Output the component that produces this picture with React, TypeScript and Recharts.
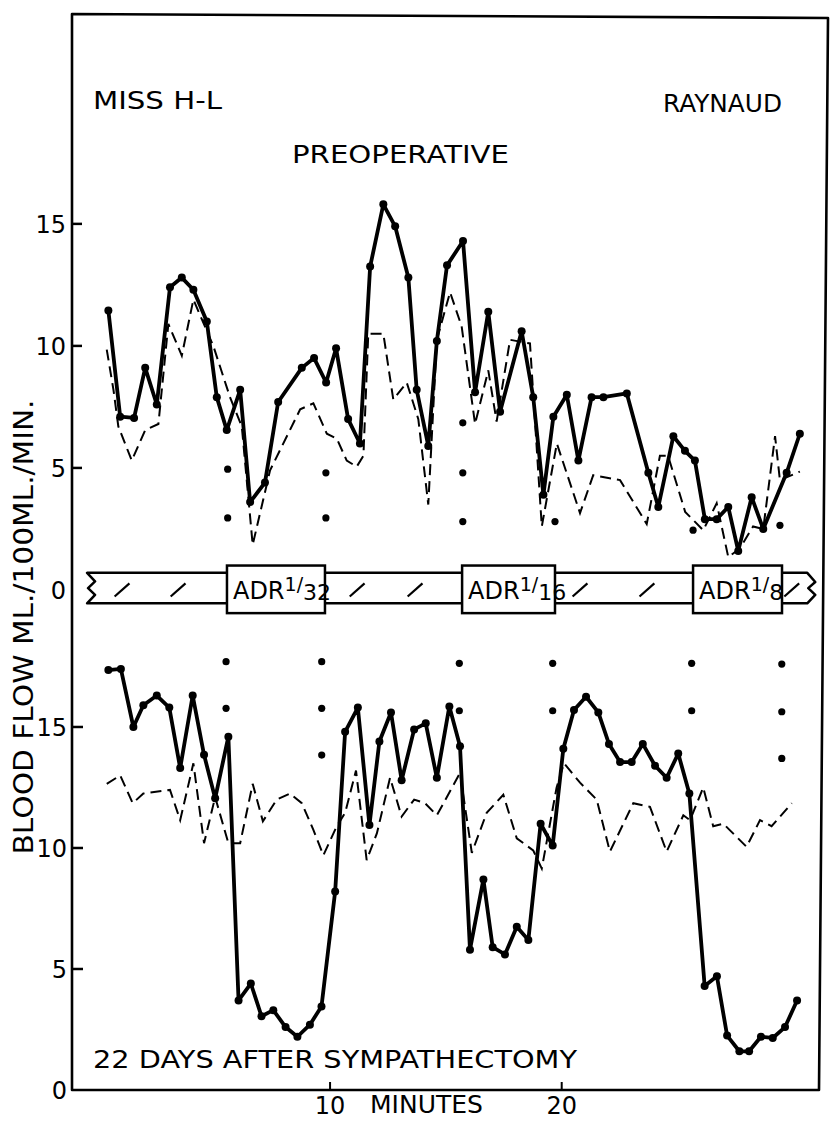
import React from "react";
import {
  ComposedChart,
  Line,
  Scatter,
  XAxis,
  YAxis,
  ReferenceArea,
  ReferenceLine,
} from "recharts";

// preoperative record (time in minutes, flow in ml/100ml/min)
const preFlowMin = [0.43, 0.94, 1.54, 2.02, 2.52, 3.09, 3.6, 4.1, 4.68, 5.11, 5.54, 6.12, 6.55, 7.19, 7.76, 8.78, 9.31, 9.83, 10.26, 10.78, 11.29, 11.73, 12.3, 12.81, 13.38, 13.74, 14.24, 14.61, 15.05, 15.74, 16.26, 16.83, 17.34, 18.27, 18.77, 19.21, 19.64, 20.22, 20.72, 21.29, 21.8, 22.81, 23.74, 24.17, 24.82, 25.32, 25.75, 26.18, 26.69, 27.19, 27.62, 28.2, 28.7, 29.71, 30.28];
const preFlow = [11.45, 7.1, 7.05, 9.1, 7.6, 12.4, 12.8, 12.3, 11.0, 7.9, 6.55, 8.2, 3.6, 4.4, 7.7, 9.1, 9.5, 8.5, 9.9, 7.0, 6.0, 13.25, 15.8, 14.9, 12.8, 8.2, 5.9, 10.2, 13.3, 14.3, 8.1, 11.4, 7.3, 10.6, 7.9, 3.9, 7.1, 8.0, 5.3, 7.9, 7.9, 8.05, 4.8, 3.4, 6.3, 5.7, 5.3, 2.9, 2.9, 3.4, 1.6, 3.8, 2.5, 4.8, 6.4];
const preCtrlMin = [0.36, 0.65, 0.86, 1.44, 2.02, 2.59, 3.02, 3.6, 4.1, 4.96, 5.68, 6.19, 6.66, 7.41, 8.71, 9.28, 9.86, 10.29, 10.72, 11.15, 11.44, 11.65, 12.3, 12.73, 13.31, 13.81, 14.24, 14.61, 15.18, 15.68, 16.26, 16.83, 17.19, 17.77, 18.63, 19.14, 19.79, 20.79, 21.36, 22.52, 23.67, 24.24, 24.59, 25.33, 26.11, 26.69, 27.19, 27.69, 28.26, 28.7, 29.21, 29.42, 30.28];
const preCtrl = [9.85, 8.2, 6.7, 5.3, 6.55, 6.8, 10.9, 9.6, 11.9, 10.0, 7.9, 6.7, 1.85, 4.9, 7.4, 7.65, 6.4, 6.2, 5.3, 5.05, 5.5, 10.5, 10.5, 7.8, 8.5, 7.0, 3.5, 10.25, 12.2, 10.8, 6.8, 9.0, 6.9, 10.25, 10.1, 2.6, 6.0, 3.15, 4.7, 4.5, 2.7, 5.5, 5.5, 3.2, 2.45, 3.55, 1.35, 1.7, 2.6, 2.5, 6.3, 4.5, 4.85];

// 22 days after sympathectomy
const postFlowMin = [0.43, 0.97, 1.51, 1.94, 2.52, 3.06, 3.53, 4.07, 4.56, 5.04, 5.61, 6.05, 6.58, 7.04, 7.55, 8.08, 8.59, 9.13, 9.63, 10.22, 10.65, 11.2, 11.7, 12.13, 12.63, 13.09, 13.63, 14.13, 14.61, 15.15, 15.61, 16.04, 16.62, 17.02, 17.55, 18.06, 18.56, 19.09, 19.61, 20.07, 20.53, 21.05, 21.58, 22.04, 22.52, 23.02, 23.5, 24.03, 24.53, 25.03, 25.51, 26.17, 26.7, 27.14, 27.67, 28.09, 28.6, 29.11, 29.64, 30.16];
const postFlow = [17.35, 17.4, 15.0, 15.9, 16.3, 15.8, 13.3, 16.3, 13.85, 12.05, 14.6, 3.7, 4.4, 3.05, 3.3, 2.6, 2.2, 2.7, 3.45, 8.2, 14.8, 15.8, 10.95, 14.4, 15.6, 12.8, 14.9, 15.15, 12.9, 15.85, 14.2, 5.8, 8.7, 5.9, 5.6, 6.75, 6.2, 11.0, 10.1, 14.1, 15.7, 16.25, 15.6, 14.3, 13.55, 13.55, 14.3, 13.4, 12.9, 13.9, 12.25, 4.3, 4.7, 2.25, 1.6, 1.6, 2.2, 2.15, 2.6, 3.7];
const postCtrlMin = [0.36, 0.94, 1.48, 1.94, 3.09, 3.53, 4.1, 4.56, 5.04, 5.61, 6.12, 6.66, 7.1, 7.7, 8.27, 8.78, 9.28, 9.71, 10.29, 10.65, 11.12, 11.58, 12.02, 12.59, 13.09, 13.63, 14.1, 14.61, 15.61, 16.12, 16.76, 17.48, 18.06, 18.77, 19.14, 19.78, 20.1, 20.79, 21.51, 22.08, 23.09, 23.81, 24.53, 25.25, 25.54, 26.11, 26.54, 26.98, 27.98, 28.56, 29.06, 29.93];
const postCtrl = [12.65, 13.0, 11.85, 12.25, 12.4, 11.15, 13.5, 10.2, 12.1, 10.2, 10.2, 12.65, 11.1, 12.0, 12.25, 11.85, 10.75, 9.7, 10.9, 11.45, 13.2, 9.5, 10.6, 12.9, 11.3, 12.0, 11.85, 11.35, 13.1, 9.8, 11.45, 12.2, 10.4, 9.9, 9.15, 12.5, 13.5, 12.7, 12.0, 9.85, 11.85, 11.7, 9.85, 11.35, 11.15, 12.5, 10.9, 11.0, 10.05, 11.15, 10.9, 11.85];

// dot marks at start / stop of each infusion
const preMarkMin = [5.58, 5.58, 9.82, 9.82, 15.73, 15.73, 15.73, 19.71, 25.67, 29.42];
const preMarkV = [4.95, 2.95, 4.8, 2.95, 6.85, 4.8, 2.8, 2.8, 2.45, 2.65];
const postMarkMin = [5.51, 5.51, 9.64, 9.64, 9.64, 15.58, 15.58, 19.61, 19.61, 25.61, 25.61, 29.5, 29.5, 29.5];
const postMarkV = [17.7, 15.77, 17.7, 15.77, 13.84, 17.63, 15.67, 17.63, 15.67, 17.63, 15.67, 17.6, 15.63, 13.7];

// adrenaline infusion band
const adrStart = [5.55, 15.7, 25.67];
const adrEnd = [9.78, 19.71, 29.51];
const adrDose = ["32", "16", "8"];
const bandFrom = -0.49;
const bandTo = 30.6;
const slashMin = [1.02, 3.44, 11.17, 13.67, 20.79, 23.68, 29.93];

const yTicks = [0, 5, 10, 15];
const xTicks = [10, 20];

const FONT = "'DejaVu Sans', 'Liberation Sans', sans-serif";
const W = 835;
const H = 1122;

const zip = (ts: number[], vs: number[]) => ts.map((t, i) => ({ t, v: vs[i] }));

const YTick = ({ x, y, payload }: any) => (
  <g>
    {payload.value !== 0 && (
      <line x1={x} x2={x + 11} y1={y} y2={y} stroke="#000" strokeWidth={2.5} />
    )}
    <text x={x - 5} y={y} dy={9} textAnchor="end" fontSize={24} fontFamily={FONT} fill="#000">
      {payload.value}
    </text>
  </g>
);

const XTick = ({ x, y, payload }: any) => (
  <g>
    <line x1={x} x2={x} y1={y} y2={y - 8} stroke="#000" strokeWidth={2} />
    <text x={x} y={y + 24} textAnchor="middle" fontSize={24} fontFamily={FONT} fill="#000">
      {payload.value}
    </text>
  </g>
);

const MarkDot = ({ cx, cy }: any) => <circle cx={cx} cy={cy} r={3.6} fill="#000" />;

const Strip = ({ x, y, width, height }: any) => {
  const r = x + width;
  const b = y + height;
  const d = [
    `M${x},${y}`,
    `L${r},${y}`,
    `L${r + 8},${y + height * 0.3}`,
    `L${r + 1},${y + height * 0.5}`,
    `L${r + 8},${y + height * 0.72}`,
    `L${r},${b}`,
    `L${x},${b}`,
    `L${x + 8},${y + height * 0.72}`,
    `L${x + 1},${y + height * 0.5}`,
    `L${x + 8},${y + height * 0.28}`,
    "Z",
  ].join(" ");
  return <path d={d} fill="#fff" stroke="#000" strokeWidth={2.5} strokeLinejoin="round" />;
};

const AdrBox = ({ x, y, width, height, dose }: any) => (
  <g>
    <rect x={x} y={y} width={width} height={height} fill="#fff" stroke="#000" strokeWidth={2.5} />
    <text x={x + 6} y={y + height / 2 + 10} fontSize={24} fontFamily={FONT} fill="#000">
      ADR
      <tspan fontSize={19} dy={-8}>1/</tspan>
      <tspan fontSize={22} dy={9}>{dose}</tspan>
    </text>
  </g>
);

export default function App() {
  const preFlowData = zip(preFlowMin, preFlow);
  const preCtrlData = zip(preCtrlMin, preCtrl);
  const postFlowData = zip(postFlowMin, postFlow);
  const postCtrlData = zip(postCtrlMin, postCtrl);
  const preMarks = zip(preMarkMin, preMarkV);
  const postMarks = zip(postMarkMin, postMarkV);

  const txt = { fontFamily: FONT, fontSize: 24, fill: "#000" };

  return (
    <div style={{ position: "absolute", left: 0, top: 0, width: W, height: H, background: "#fff" }}>
      <ComposedChart
        width={W}
        height={H}
        margin={{ top: 14, right: 15, bottom: 31, left: 70 }}
      >
        <XAxis
          type="number"
          dataKey="t"
          domain={[-1.14, 31.15]}
          allowDataOverflow
          ticks={xTicks}
          interval={0}
          height={1}
          tickSize={0}
          tickMargin={0}
          axisLine={false}
          tickLine={false}
          tick={<XTick />}
        />
        <YAxis
          yAxisId="pre"
          type="number"
          dataKey="v"
          domain={[-20.49, 23.6]}
          allowDataOverflow
          ticks={yTicks}
          interval={0}
          width={1}
          tickSize={0}
          tickMargin={0}
          axisLine={false}
          tickLine={false}
          tick={<YTick />}
        />
        <YAxis
          yAxisId="post"
          type="number"
          dataKey="v"
          domain={[0, 44.46]}
          allowDataOverflow
          ticks={yTicks}
          interval={0}
          width={1}
          tickSize={0}
          tickMargin={0}
          axisLine={false}
          tickLine={false}
          tick={<YTick />}
        />

        {/* infusion band across the middle */}
        <ReferenceArea
          yAxisId="pre"
          x1={bandFrom}
          x2={bandTo}
          y1={-0.55}
          y2={0.7}
          ifOverflow="visible"
          shape={<Strip />}
        />
        {slashMin.map((t) => (
          <ReferenceLine
            key={"s" + t}
            yAxisId="pre"
            segment={[
              { x: t - 0.32, y: -0.27 },
              { x: t + 0.32, y: 0.27 },
            ]}
            stroke="#000"
            strokeWidth={2.2}
            ifOverflow="visible"
          />
        ))}
        {adrStart.map((s, i) => (
          <ReferenceArea
            key={"adr" + i}
            yAxisId="pre"
            x1={s}
            x2={adrEnd[i]}
            y1={-0.95}
            y2={1.0}
            ifOverflow="visible"
            shape={(p: any) => <AdrBox {...p} dose={adrDose[i]} />}
          />
        ))}

        <Line
          yAxisId="pre"
          data={preCtrlData}
          dataKey="v"
          type="linear"
          stroke="#000"
          strokeWidth={2}
          strokeDasharray="11 6"
          dot={false}
          isAnimationActive={false}
        />
        <Line
          yAxisId="pre"
          data={preFlowData}
          dataKey="v"
          type="linear"
          stroke="#000"
          strokeWidth={3.8}
          strokeLinejoin="round"
          dot={{ r: 4, fill: "#000", stroke: "#000", strokeWidth: 0 }}
          isAnimationActive={false}
        />
        <Line
          yAxisId="post"
          data={postCtrlData}
          dataKey="v"
          type="linear"
          stroke="#000"
          strokeWidth={2}
          strokeDasharray="11 6"
          dot={false}
          isAnimationActive={false}
        />
        <Line
          yAxisId="post"
          data={postFlowData}
          dataKey="v"
          type="linear"
          stroke="#000"
          strokeWidth={3.8}
          strokeLinejoin="round"
          dot={{ r: 4, fill: "#000", stroke: "#000", strokeWidth: 0 }}
          isAnimationActive={false}
        />
        <Scatter yAxisId="pre" data={preMarks} dataKey="v" shape={<MarkDot />} isAnimationActive={false} />
        <Scatter yAxisId="post" data={postMarks} dataKey="v" shape={<MarkDot />} isAnimationActive={false} />
      </ComposedChart>

      <svg
        width={W}
        height={H}
        style={{ position: "absolute", left: 0, top: 0, pointerEvents: "none" }}
      >
        <path
          d="M72,14 L828,18 L819,1090 L72,1090 Z"
          fill="none"
          stroke="#000"
          strokeWidth={2.6}
          strokeLinejoin="round"
        />
        <text x={93} y={109} textLength={129} lengthAdjust="spacingAndGlyphs" {...txt}>MISS H-L</text>
        <text x={663} y={112} textLength={119} lengthAdjust="spacingAndGlyphs" {...txt}>RAYNAUD</text>
        <text x={292} y={163} textLength={217} lengthAdjust="spacingAndGlyphs" {...txt}>PREOPERATIVE</text>
        <text x={93} y={1068} textLength={484} lengthAdjust="spacingAndGlyphs" {...txt}>
          22 DAYS AFTER SYMPATHECTOMY
        </text>
        <text x={370} y={1113} textLength={113} lengthAdjust="spacingAndGlyphs" {...txt}>MINUTES</text>
        <text
          x={0}
          y={0}
          transform="translate(33,627) rotate(-90)"
          textAnchor="middle"
          textLength={455}
          lengthAdjust="spacingAndGlyphs"
          fontFamily={FONT}
          fontSize={26}
          fill="#000"
        >
          BLOOD FLOW  ML./100ML./MIN.
        </text>
      </svg>
    </div>
  );
}
